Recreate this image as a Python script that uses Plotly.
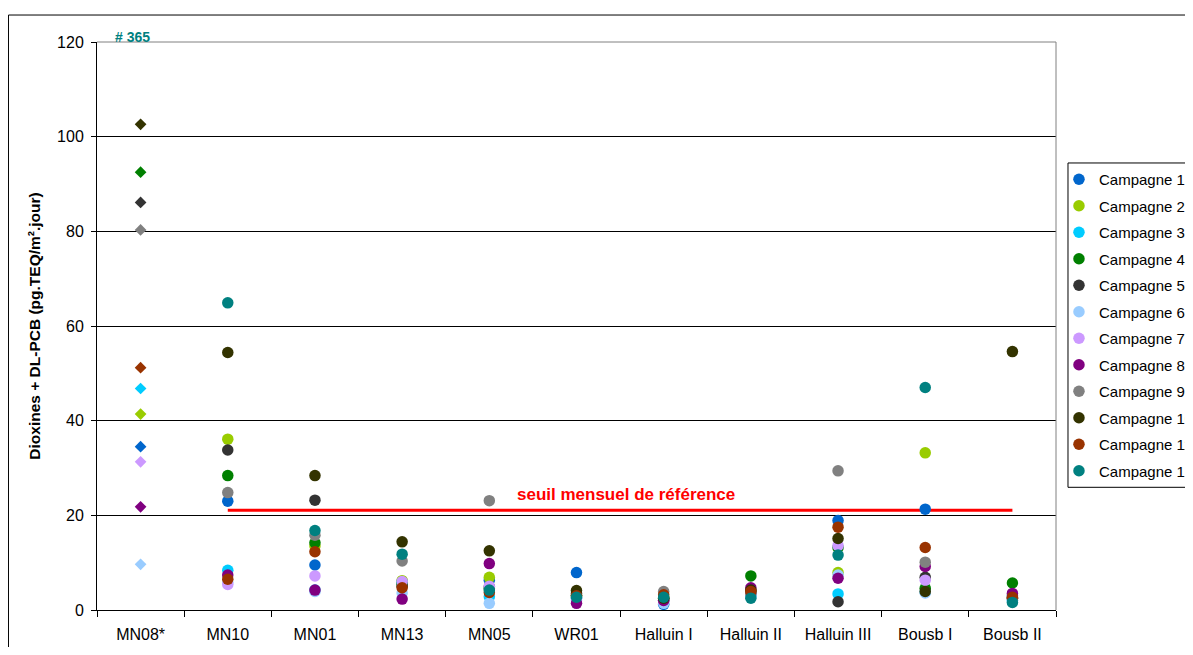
import plotly.graph_objects as go

categories = ["MN08*", "MN10", "MN01", "MN13", "MN05", "WR01",
              "Halluin I", "Halluin II", "Halluin III", "Bousb I", "Bousb II"]

campaign_names = ["Campagne %d" % i for i in range(1, 13)]

c1 = [34.5, 23.0, 9.5, 6.0, 6.3, 7.9, 1.2, 3.5, 18.9, 21.3, 3.0]
c2 = [41.4, 36.1, 13.5, 6.2, 6.9, 3.0, 2.5, 4.0, 7.9, 33.2, 2.5]
c3 = [46.8, 8.4, 4.2, 5.8, 2.8, 2.5, 2.0, 3.0, 3.4, 3.8, 2.0]
c4 = [92.5, 28.4, 14.2, 5.5, 4.5, 3.0, 2.5, 7.2, 13.2, 4.6, 5.7]
c5 = [86.1, 33.8, 23.2, 5.0, 4.9, 3.5, 2.0, 3.8, 1.75, 6.9, 2.5]
c6 = [9.65, 5.8, 3.9, 3.6, 1.4, 2.0, 1.4, 3.0, 7.4, 3.6, 2.0]
c7 = [31.3, 5.4, 7.2, 6.0, 5.0, 2.5, 2.0, 3.5, 13.6, 6.3, 2.5]
c8 = [21.8, 7.4, 4.2, 2.3, 9.8, 1.4, 2.0, 4.7, 6.7, 9.2, 3.5]
c9 = [80.3, 24.8, 15.8, 10.35, 23.1, 3.0, 3.9, 3.5, 29.4, 10.1, 2.5]
c10 = [102.6, 54.4, 28.4, 14.4, 12.5, 4.1, 2.5, 4.2, 15.1, 3.9, 54.6]
c11 = [51.2, 6.5, 12.3, 4.7, 3.7, 3.0, 3.2, 3.9, 17.5, 13.2, 2.7]
c12 = [365, 64.9, 16.8, 11.8, 4.2, 2.7, 2.7, 2.5, 11.6, 47.0, 1.6]

series = [c1, c2, c3, c4, c5, c6, c7, c8, c9, c10, c11, c12]

colors = ["#0066CC", "#99CC00", "#00CCFF", "#008000", "#333333", "#99CCFF",
          "#CC99FF", "#800080", "#808080", "#333300", "#993300", "#008080"]

seuil = 21.1
seuil_label = "seuil mensuel de référence"
note_label = "# 365"
y_title = "Dioxines + DL-PCB (pg.TEQ/m².jour)"
y_ticks = [0, 20, 40, 60, 80, 100, 120]

FONT = "Arial, 'Liberation Sans', sans-serif"

fig = go.Figure()

# threshold line
fig.add_trace(go.Scatter(
    x=[categories[1], categories[-1]], y=[seuil, seuil],
    mode="lines", line=dict(color="#FF0000", width=3),
    showlegend=False, hoverinfo="skip"))

for name, vals, col in zip(campaign_names, series, colors):
    # MN08* drawn with diamonds
    fig.add_trace(go.Scatter(
        x=categories[:1], y=vals[:1], mode="markers",
        marker=dict(symbol="diamond", size=9, color=col, line=dict(width=0)),
        name=name, legendgroup=name, showlegend=False))
    fig.add_trace(go.Scatter(
        x=categories[1:], y=vals[1:], mode="markers",
        marker=dict(symbol="circle", size=11.5, color=col, line=dict(width=0)),
        name=name, legendgroup=name, showlegend=True))

fig.update_layout(
    width=1177, height=639,
    paper_bgcolor="white", plot_bgcolor="white",
    margin=dict(l=89, r=129, t=34, b=37, autoexpand=False),
    font=dict(family=FONT, size=16, color="black"),
    showlegend=True,
    legend=dict(x=1.0031, y=0.787, xanchor="left", yanchor="top",
                borderwidth=0,
                font=dict(family=FONT, size=15, color="black"),
                itemwidth=30, tracegroupgap=4, traceorder="grouped",
                bgcolor="rgba(0,0,0,0)"),
    xaxis=dict(type="category", categoryorder="array", categoryarray=categories,
               range=[-0.5, len(categories) - 0.5],
               showline=True, linecolor="black", linewidth=1,
               ticks="outside", ticklen=6, tickcolor="black", tickson="boundaries",
               showgrid=False, zeroline=False,
               tickfont=dict(family=FONT, size=16, color="black"),
               ticklabelstandoff=10),
    yaxis=dict(range=[0, 120], tickvals=y_ticks,
               showline=True, linecolor="black", linewidth=1,
               ticks="outside", ticklen=5, tickcolor="black",
               showgrid=True, gridcolor="black", gridwidth=1,
               zeroline=False,
               tickfont=dict(family=FONT, size=16, color="black"),
               ticklabelstandoff=4,
               title=dict(text=y_title, standoff=12,
                          font=dict(family=FONT, size=15.5, color="black", weight="bold"))),
    shapes=[
        # outer chart border
        dict(type="rect", xref="paper", yref="paper",
             x0=-0.0923, x1=1.25, y0=-0.2, y1=1.0475,
             line=dict(color="black", width=1), fillcolor="rgba(0,0,0,0)", layer="below"),
        # plot area top / right border
        dict(type="line", xref="paper", yref="paper", x0=0, x1=1, y0=1, y1=1,
             line=dict(color="#808080", width=1), layer="above"),
        dict(type="line", xref="paper", yref="paper", x0=1, x1=1, y0=0, y1=1,
             line=dict(color="#808080", width=1), layer="above"),
        # legend frame
        dict(type="rect", xref="paper", yref="paper",
             x0=1.0125, x1=1.3, y0=0.216, y1=0.787,
             line=dict(color="black", width=1), fillcolor="rgba(0,0,0,0)", layer="above"),
    ],
    annotations=[
        dict(text="<b>%s</b>" % note_label, xref="x", yref="paper",
             x=categories[0], xshift=-8, y=1.026, showarrow=False,
             font=dict(family=FONT, size=14, color="#008080")),
        dict(text="<b>%s</b>" % seuil_label, xref="paper", yref="y",
             x=0.5516, y=24.5, showarrow=False,
             font=dict(family=FONT, size=17, color="#FF0000")),
    ],
)

fig.write_html("out.html")
